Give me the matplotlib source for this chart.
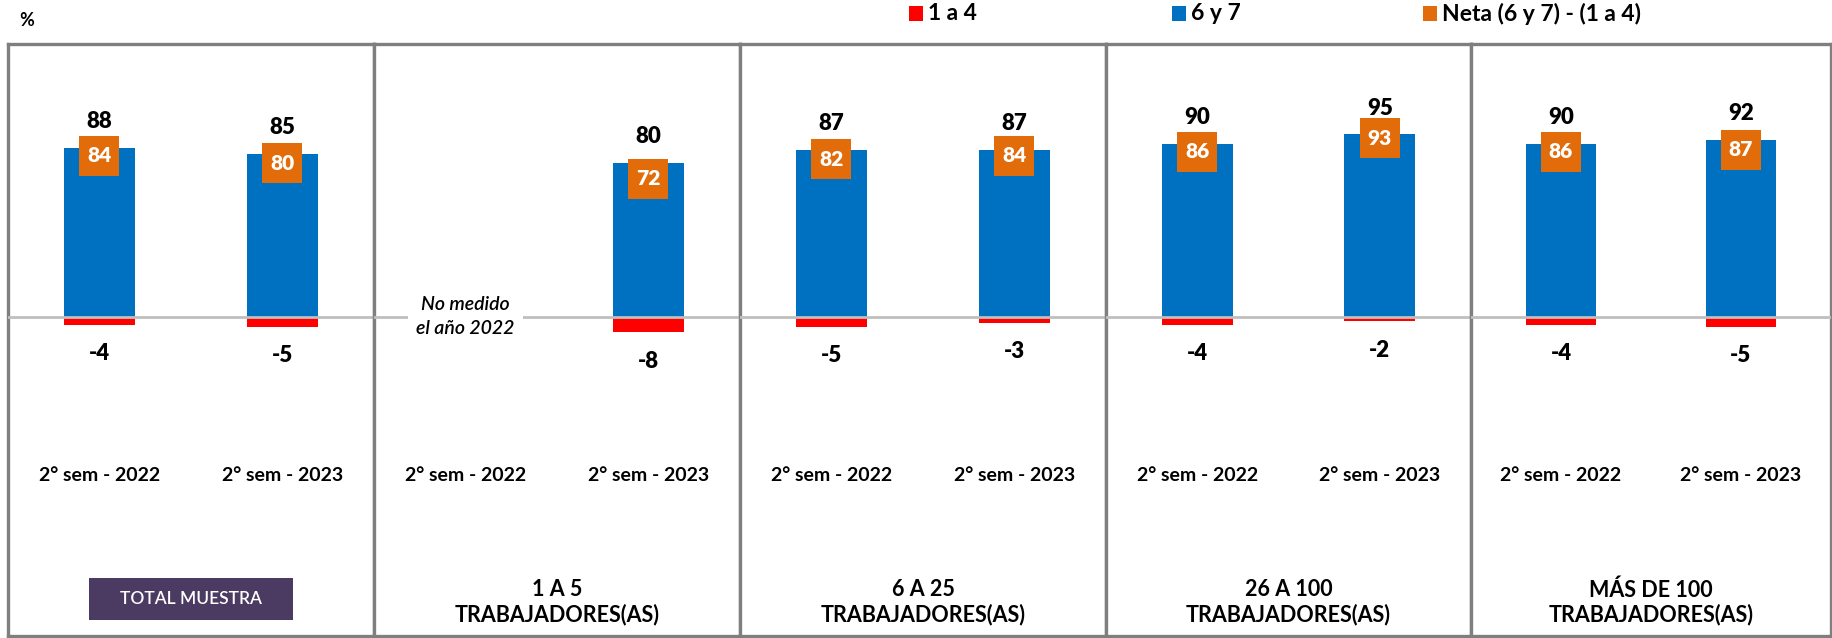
import matplotlib
matplotlib.use("Agg")
import matplotlib.pyplot as plt
from matplotlib.patches import Rectangle

plt.rcParams["font.family"] = ["Lato", "DejaVu Sans"]

# data
GROUPS = ["TOTAL MUESTRA", "1 A 5\nTRABAJADORES(AS)", "6 A 25\nTRABAJADORES(AS)",
          "26 A 100\nTRABAJADORES(AS)", "MÁS DE 100\nTRABAJADORES(AS)"]
PERIODS = ["2° sem - 2022", "2° sem - 2023"]
TOP_67 = [[88, 85], [None, 80], [87, 87], [90, 95], [90, 92]]
LOW_14 = [[-4, -5], [None, -8], [-5, -3], [-4, -2], [-4, -5]]
NETA = [[84, 80], [None, 72], [82, 84], [86, 93], [86, 87]]
LEGEND = ["1 a 4", "6 y 7", "Neta (6 y 7) - (1 a 4)"]

RED = "#FF0000"
BLUE = "#0070C0"
ORANGE = "#E36C0A"
BORDER = "#7F7F7F"
PURPLE = "#4B3A62"

W, H = 1833, 638
fig = plt.figure(figsize=(W / 100, H / 100), dpi=100)

# panel edges in pixels
edges = [8, 374, 740, 1106, 1471, 1831]
top_px, bot_px, base_px = 44, 636, 317
ppu = 1.922  # pixels per percentage point
ymax = (base_px - top_px) / ppu
ymin = -(bot_px - base_px) / ppu

xs = [0.5, 1.5]
for i, name in enumerate(GROUPS):
    x0, x1 = edges[i], edges[i + 1]
    ax = fig.add_axes([x0 / W, (H - bot_px) / H, (x1 - x0) / W, (bot_px - top_px) / H])
    ax.set_xlim(0, 2)
    ax.set_ylim(ymin, ymax)
    ax.set_xticks([])
    ax.set_yticks([])
    for sp in ax.spines.values():
        sp.set_color(BORDER)
        sp.set_linewidth(2.4)

    ax.axhline(0, color="#BFBFBF", lw=2, zorder=4)

    for j, x in enumerate(xs):
        ax.text(x, -82.5, PERIODS[j], ha="center", va="center", fontsize=14,
                fontweight="bold")
        top = TOP_67[i][j]
        if top is None:
            ax.text(x, 0.5, "No medido\nel año 2022", ha="center", va="center",
                    fontsize=14, style="italic", fontweight="semibold",
                    linespacing=1.5, zorder=6,
                    bbox=dict(boxstyle="square,pad=0.45", fc="white", ec="none"))
            continue
        low = LOW_14[i][j]
        net = NETA[i][j]
        ax.bar(x, top, width=0.39, color=BLUE, zorder=3)
        ax.bar(x, low, width=0.39, color=RED, zorder=3)
        ax.scatter([x], [net], marker="s", s=820, color=ORANGE, zorder=5,
                   linewidths=0)
        ax.text(x, net, str(net), ha="center", va="center", color="white",
                fontsize=15, fontweight="heavy", zorder=6)
        ax.annotate(str(top), (x, top), xytext=(0, 19), textcoords="offset points",
                    ha="center", va="center", fontsize=16, fontweight="heavy")
        ax.annotate(str(low), (x, low), xytext=(0, -21), textcoords="offset points",
                    ha="center", va="center", fontsize=16, fontweight="heavy")

    if i == 0:
        bw, bh = 205 / (x1 - x0), 42 / (bot_px - top_px)
        by = (bot_px - 620) / (bot_px - top_px)
        ax.add_patch(Rectangle((0.5 - bw / 2, by), bw, bh, transform=ax.transAxes,
                               fc=PURPLE, ec="none", zorder=5))
        ax.text(0.5, by + bh / 2, name, transform=ax.transAxes, ha="center",
                va="center", fontsize=12.5, fontweight="semibold", color="white",
                zorder=6)
    else:
        ax.text(0.5, 0.057, name, transform=ax.transAxes, ha="center", va="center",
                fontsize=15.5, fontweight="bold", linespacing=1.16)

fig.text(19 / W, 1 - 21 / H, "%", ha="left", va="center", fontsize=13,
         fontweight="bold")

# legend placed by hand to match the uneven spacing
for lx, col, lab in zip([909, 1172, 1423], [RED, BLUE, ORANGE], LEGEND):
    fig.patches.append(Rectangle((lx / W, 1 - 21 / H), 14 / W, 15 / H,
                                 transform=fig.transFigure, fc=col, ec="none"))
    fig.text((lx + 19) / W, 1 - 14 / H, lab, ha="left", va="center",
             fontsize=16.5, fontweight="bold")

fig.savefig("out.png", dpi=100)
